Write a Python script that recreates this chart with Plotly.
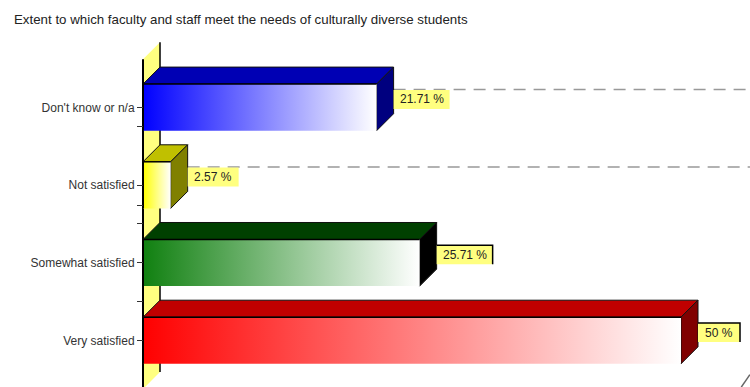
import plotly.graph_objects as go

TITLE = "Extent to which faculty and staff meet the needs of culturally diverse students"
categories = ["Very satisfied", "Somewhat satisfied", "Not satisfied", "Don't know or n/a"]
values = [50, 25.71, 2.57, 21.71]
value_labels = ["50 %", "25.71 %", "2.57 %", "21.71 %"]
front_colors = ["#ff0000", "#108010", "#ffff00", "#0000ff"]
top_colors = ["#c00000", "#004000", "#c0c000", "#0000b4"]
side_colors = ["#800000", "#000000", "#808000", "#00007f"]
label_widths = [42, 56, 51, 56]
boxed = [True, True, False, False]
dashed = [False, False, True, True]

W, H = 750, 387
AXIS_PX = 143
PX_PER_VALUE = 10.76
PX_PER_ROW = 77.7
BASE_PX = 340.5
DEPTH_PX = 17
DX = DEPTH_PX / PX_PER_VALUE
DY = DEPTH_PX / PX_PER_ROW
HALF = 0.30
WALL = "#ffff80"

x_range = [-AXIS_PX / PX_PER_VALUE, (W - AXIS_PX) / PX_PER_VALUE]
y_range = [(BASE_PX - H) / PX_PER_ROW, BASE_PX / PX_PER_ROW]
x_max = x_range[1]

fig = go.Figure()


def poly(xs, ys, fill=None, gradient=None, line=None, width=1):
    """Closed filled polygon in axis coordinates."""
    kw = dict(x=xs + xs[:1], y=ys + ys[:1], mode="lines", fill="toself",
              hoverinfo="skip", showlegend=False,
              line=dict(color=line or "rgba(0,0,0,0)", width=width))
    if gradient:
        kw["fillgradient"] = dict(type="horizontal",
                                  colorscale=[[0, gradient], [1, "#ffffff"]])
    else:
        kw["fillcolor"] = fill
    fig.add_trace(go.Scatter(**kw))


def stroke(xs, ys, color="#000000", width=1.5, dash=None):
    fig.add_trace(go.Scatter(x=xs, y=ys, mode="lines", hoverinfo="skip", showlegend=False,
                             line=dict(color=color, width=width, dash=dash)))


# back wall of the 3D frame
wall_top, wall_bottom = 3.62, -0.625
poly([0, DX, DX, 0], [wall_top, wall_top + DY, wall_bottom + DY, wall_bottom], fill=WALL)
stroke([DX, DX], [wall_bottom + DY, wall_top + DY])
stroke([0, 0], [wall_bottom, wall_top], width=2)

# gridlines running along the top of the value labels
for i, v in enumerate(values):
    if dashed[i]:
        stroke([v + DX, x_max], [i + 18 / PX_PER_ROW] * 2, color="#999999", width=1.5, dash="12px 8px")

# bars, back row first
for i in reversed(range(len(values))):
    v = values[i]
    lo, hi = i - HALF, i + HALF
    poly([0, DX, v + DX, v], [hi, hi + DY, hi + DY, hi], fill=top_colors[i], line="#111111", width=1)
    poly([v, v + DX, v + DX, v], [lo, lo + DY, hi + DY, hi], fill=side_colors[i], line="#111111", width=1)
    poly([0, v, v, 0], [lo, lo, hi, hi], gradient=front_colors[i])
    stroke([0, v], [hi, hi], width=1.5)
    stroke([0, 0], [lo, hi], width=2)

# value labels
shapes, annotations = [], []
for i, v in enumerate(values):
    w = label_widths[i]
    anchor_x = v + DX
    anchor_y = i + 8 / PX_PER_ROW
    shapes.append(dict(type="rect", xref="x", yref="y", xsizemode="pixel", ysizemode="pixel",
                       xanchor=anchor_x, yanchor=anchor_y, x0=0, x1=w, y0=-9.5, y1=9.5,
                       fillcolor=WALL, line=dict(width=0), layer="above"))
    if boxed[i]:
        shapes.append(dict(type="path", xref="x", yref="y", xsizemode="pixel", ysizemode="pixel",
                           xanchor=anchor_x, yanchor=anchor_y,
                           path=f"M0,9.5 L{w},9.5 L{w},-9.5",
                           line=dict(color="#000000", width=1.5), layer="above"))
    annotations.append(dict(x=anchor_x, y=anchor_y, xref="x", yref="y", text=value_labels[i],
                            showarrow=False, xanchor="center", xshift=w / 2,
                            font=dict(family="Liberation Sans", size=12, color="#222222")))

# floor corner at the lower right
stroke([55.6, 56.4], [-0.6, -0.44], color="#666666", width=1.5)

fig.update_layout(
    width=W, height=H,
    margin=dict(l=0, r=0, t=0, b=0),
    paper_bgcolor="#ffffff", plot_bgcolor="#ffffff",
    showlegend=False,
    shapes=shapes,
    annotations=annotations + [dict(
        x=12 / W, y=1 - 19 / H, xref="paper", yref="paper", text=TITLE, showarrow=False,
        xanchor="left", yanchor="middle",
        font=dict(family="Liberation Sans", size=13.3, color="#222222"))],
    xaxis=dict(range=x_range, visible=False, fixedrange=True),
    yaxis=dict(
        range=y_range, anchor="free", position=AXIS_PX / W,
        tickmode="array", tickvals=list(range(len(categories))), ticktext=categories,
        ticks="outside", ticklen=6, tickcolor="#333333", tickwidth=1,
        minor=dict(tickmode="array", tickvals=[0.5, 1.5, 1.74, 2.75], ticks="outside",
                   ticklen=6, tickcolor="#333333", tickwidth=1),
        tickfont=dict(family="Liberation Sans", size=12, color="#333333"),
        showgrid=False, zeroline=False, showline=False, fixedrange=True),
)

fig.write_html("out.html", config={"displayModeBar": False})
